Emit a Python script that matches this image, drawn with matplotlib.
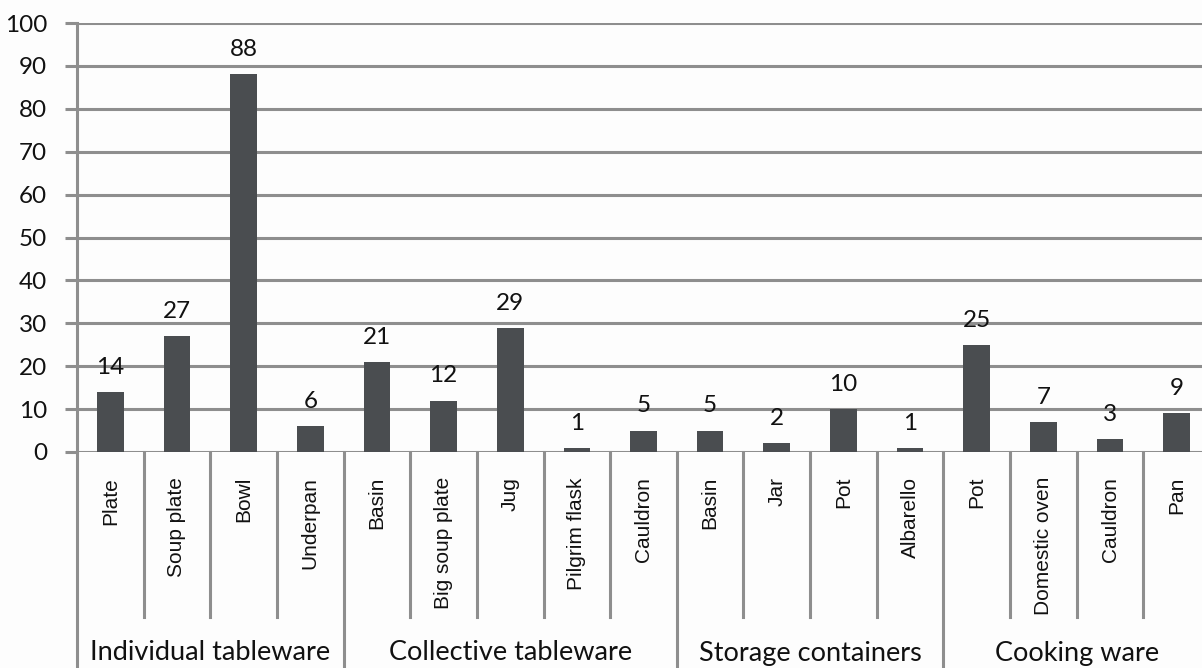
import matplotlib
matplotlib.use("Agg")
import matplotlib.pyplot as plt
import matplotlib.transforms as mtransforms

# Vessel types and counts, grouped by functional class
groups = ["Individual tableware", "Collective tableware", "Storage containers", "Cooking ware"]
group_sizes = [4, 5, 4, 4]
categories = ["Plate", "Soup plate", "Bowl", "Underpan",
              "Basin", "Big soup plate", "Jug", "Pilgrim flask", "Cauldron",
              "Basin", "Jar", "Pot", "Albarello",
              "Pot", "Domestic oven", "Cauldron", "Pan"]
values = [14, 27, 88, 6,
          21, 12, 29, 1, 5,
          5, 2, 10, 1,
          25, 7, 3, 9]
y_ticks = [0, 10, 20, 30, 40, 50, 60, 70, 80, 90, 100]

W, H = 1202, 668
fig = plt.figure(figsize=(W / 100, H / 100), dpi=100)
fig.patch.set_facecolor("#fdfdfd")

x0, x1 = 77, 1210
y_top, y_zero = 23, 452
ax = fig.add_axes([x0 / W, (H - y_zero) / H, (x1 - x0) / W, (y_zero - y_top) / H])
ax.set_facecolor("#fdfdfd")

grid_color = "#8e8e8e"
bar_color = "#4a4d50"
text_color = "#111111"
num_font = "Lato"
lab_font = "Liberation Sans"

xs = list(range(len(values)))
ax.bar(xs, values, width=0.4, color=bar_color, zorder=3)
ax.set_xlim(-0.5, len(values) - 0.5)
ax.set_ylim(0, 100)

for v in y_ticks:
    ax.axhline(v, color=grid_color, lw=2.2, zorder=1)

for s in ["top", "right", "bottom"]:
    ax.spines[s].set_visible(False)
ax.spines["left"].set_color(grid_color)
ax.spines["left"].set_linewidth(2.2)
ax.spines["left"].set_zorder(2)

ax.set_xticks([])
ax.set_yticks(y_ticks)
ax.set_yticklabels([str(v) for v in y_ticks], fontfamily=num_font, fontsize=17.5,
                   color=text_color)
ax.tick_params(axis="y", length=8.5, width=2.2, color=grid_color, pad=13)

# Value labels above the bars
for x, v in zip(xs, values):
    ax.annotate(str(v), (x, v), xytext=(0, 13), textcoords="offset points",
                ha="center", va="baseline", fontfamily=num_font, fontsize=17.5,
                color=text_color, zorder=4)

trans = mtransforms.blended_transform_factory(ax.transData, ax.transAxes)
px = 1.0 / (y_zero - y_top)  # one pixel in axes-fraction units

# Category labels, rotated under each bar
for x, c in zip(xs, categories):
    ax.text(x, -25 * px, c, transform=trans, rotation=90, ha="center", va="top",
            fontfamily=lab_font, fontsize=15, color=text_color)

# Separators between categories and between groups
group_starts = set()
start = 0
for n in group_sizes:
    group_starts.add(start)
    start += n
for b in range(1, len(values)):
    bx = b - 0.5
    depth = (H - y_zero + 5) if b in group_starts else (617 - y_zero)
    ax.plot([bx, bx], [0, -depth * px], transform=trans,
            color=grid_color, lw=2.2, clip_on=False, zorder=1)
ax.plot([-0.5, -0.5], [0, -(H - y_zero + 5) * px], transform=trans,
        color=grid_color, lw=2.2, clip_on=False, zorder=1)

# Group labels along the bottom
start = 0
for g, n in zip(groups, group_sizes):
    cx = start + (n - 1) / 2
    ax.text(cx, -(653 - y_zero) * px, g, transform=trans, ha="center", va="center",
            fontfamily=num_font, fontsize=19.5, color=text_color)
    start += n

fig.savefig("out.png", dpi=100, facecolor=fig.get_facecolor())
